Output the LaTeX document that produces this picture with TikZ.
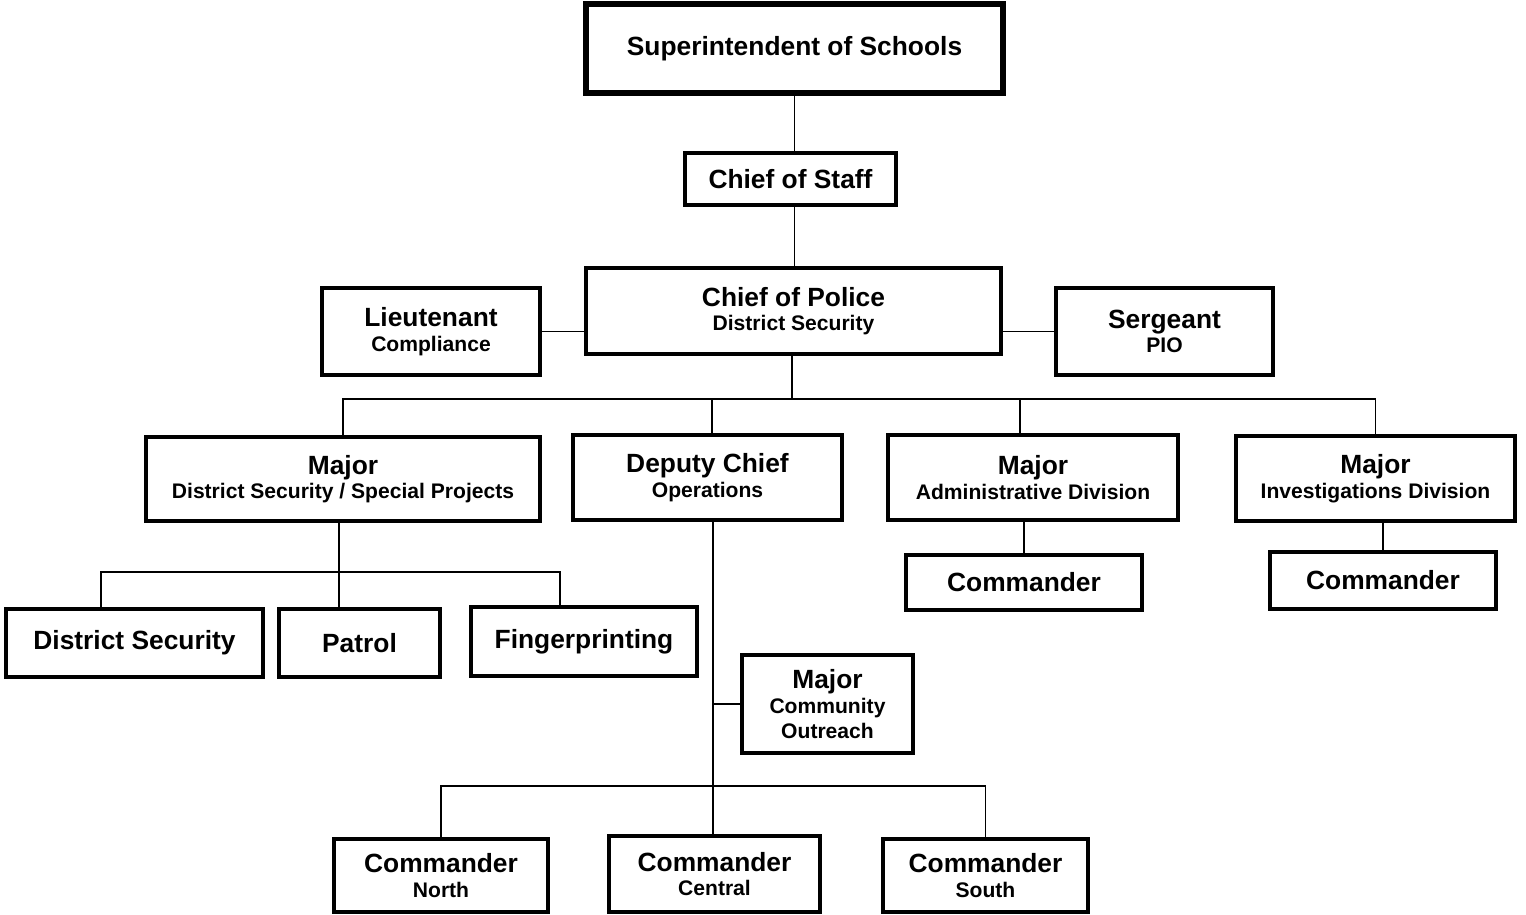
\documentclass[tikz,border=0pt]{standalone}
\usepackage{fontspec}
\setmainfont{Liberation Sans}
\usepackage{tikz}
\usetikzlibrary{positioning}

\newcommand{\subline}[1]{{\fontsize{12}{14}\selectfont #1}}

\begin{document}
\begin{tikzpicture}[x=0.02cm, y=-0.02cm,
    box/.style={draw, line width=1.8pt, inner sep=0pt, align=center, font=\fontsize{15}{14}\selectfont\bfseries},
    link/.style={line width=1.1pt}]
    \useasboundingbox (0,0) rectangle (1526,915);
    % top of the chain
    \node[box, line width=3.2pt, minimum width=8.34cm, minimum height=1.78cm] (sup) at (794.5,48.5) {Superintendent of Schools};
    \node[box, minimum width=4.22cm, minimum height=1.04cm] (cos) at (790.5,179) {Chief of Staff};
    \node[box, minimum width=8.30cm, minimum height=1.72cm] (cop) at (793.5,311) {Chief of Police\\\subline{District Security}};
    \node[box, minimum width=4.36cm, minimum height=1.74cm] (lt) at (431,331.5) {Lieutenant\\\subline{Compliance}};
    \node[box, minimum width=4.34cm, minimum height=1.74cm] (sgt) at (1164.5,331.5) {Sergeant\\\subline{PIO}};
    % second level
    \node[box, minimum width=7.88cm, minimum height=1.68cm] (majds) at (343,479) {Major\\\subline{District Security / Special Projects}};
    \node[box, minimum width=5.38cm, minimum height=1.70cm] (dep) at (707.5,477.5) {Deputy Chief\\\subline{Operations}};
    \node[box, minimum width=5.80cm, minimum height=1.70cm] (majadm) at (1033,477.5) {Major\\\subline{Administrative Division}};
    \node[box, minimum width=5.58cm, minimum height=1.70cm] (majinv) at (1375.5,478.5) {Major\\\subline{Investigations Division}};
    \node[box, minimum width=4.72cm, minimum height=1.10cm] (cmdadm) at (1024,582.5) {Commander};
    \node[box, minimum width=4.52cm, minimum height=1.14cm] (cmdinv) at (1383,580.5) {Commander};
    % units
    \node[box, minimum width=5.14cm, minimum height=1.36cm] (dsec) at (134.5,643) {District Security};
    \node[box, minimum width=3.22cm, minimum height=1.36cm] (patrol) at (359.5,643) {Patrol};
    \node[box, minimum width=4.52cm, minimum height=1.38cm] (finger) at (584,641.5) {Fingerprinting};
    \node[box, minimum width=3.42cm, minimum height=1.96cm] (mco) at (827.5,704) {Major\\\subline{Community}\\\subline{Outreach}};
    \node[box, minimum width=4.28cm, minimum height=1.46cm] (cmdn) at (441,875.5) {Commander\\\subline{North}};
    \node[box, minimum width=4.22cm, minimum height=1.52cm] (cmdc) at (714.5,874) {Commander\\\subline{Central}};
    \node[box, minimum width=4.10cm, minimum height=1.46cm] (cmds) at (985.5,875.5) {Commander\\\subline{South}};

    \coordinate (bus) at (792,399);
    \coordinate (dsbus) at (339,572);
    \coordinate (opsbus) at (713,786);

    \draw[link] (sup.south) -- (sup.south |- cos.north);
    \draw[link] (sup.south |- cos.south) -- (sup.south |- cop.north);
    \draw[link] (lt.east) -- (lt.east -| cop.west);
    \draw[link] (sgt.west) -- (sgt.west -| cop.east);
    \draw[link] (bus |- cop.south) -- (bus);
    \draw[link] (majds.north) |- (bus) -| (majinv.north);
    \draw[link] ([xshift=0.09cm]dep.north) -- ([xshift=0.09cm]dep.north |- bus);
    \draw[link] ([xshift=-0.26cm]majadm.north) -- ([xshift=-0.26cm]majadm.north |- bus);
    \draw[link] (cmdadm.north) -- (cmdadm.north |- majadm.south);
    \draw[link] (cmdinv.north) -- (cmdinv.north |- majinv.south);
    \draw[link] (dsbus |- majds.south) -- (dsbus |- patrol.north);
    \draw[link] ([xshift=-0.67cm]dsec.north) |- (dsbus) -| ([xshift=-0.48cm]finger.north);
    \draw[link] (opsbus |- dep.south) -- (opsbus |- cmdc.north);
    \draw[link] (mco.west) -- (mco.west -| opsbus);
    \draw[link] (cmdn.north) |- (opsbus) -| (cmds.north);
\end{tikzpicture}
\end{document}
